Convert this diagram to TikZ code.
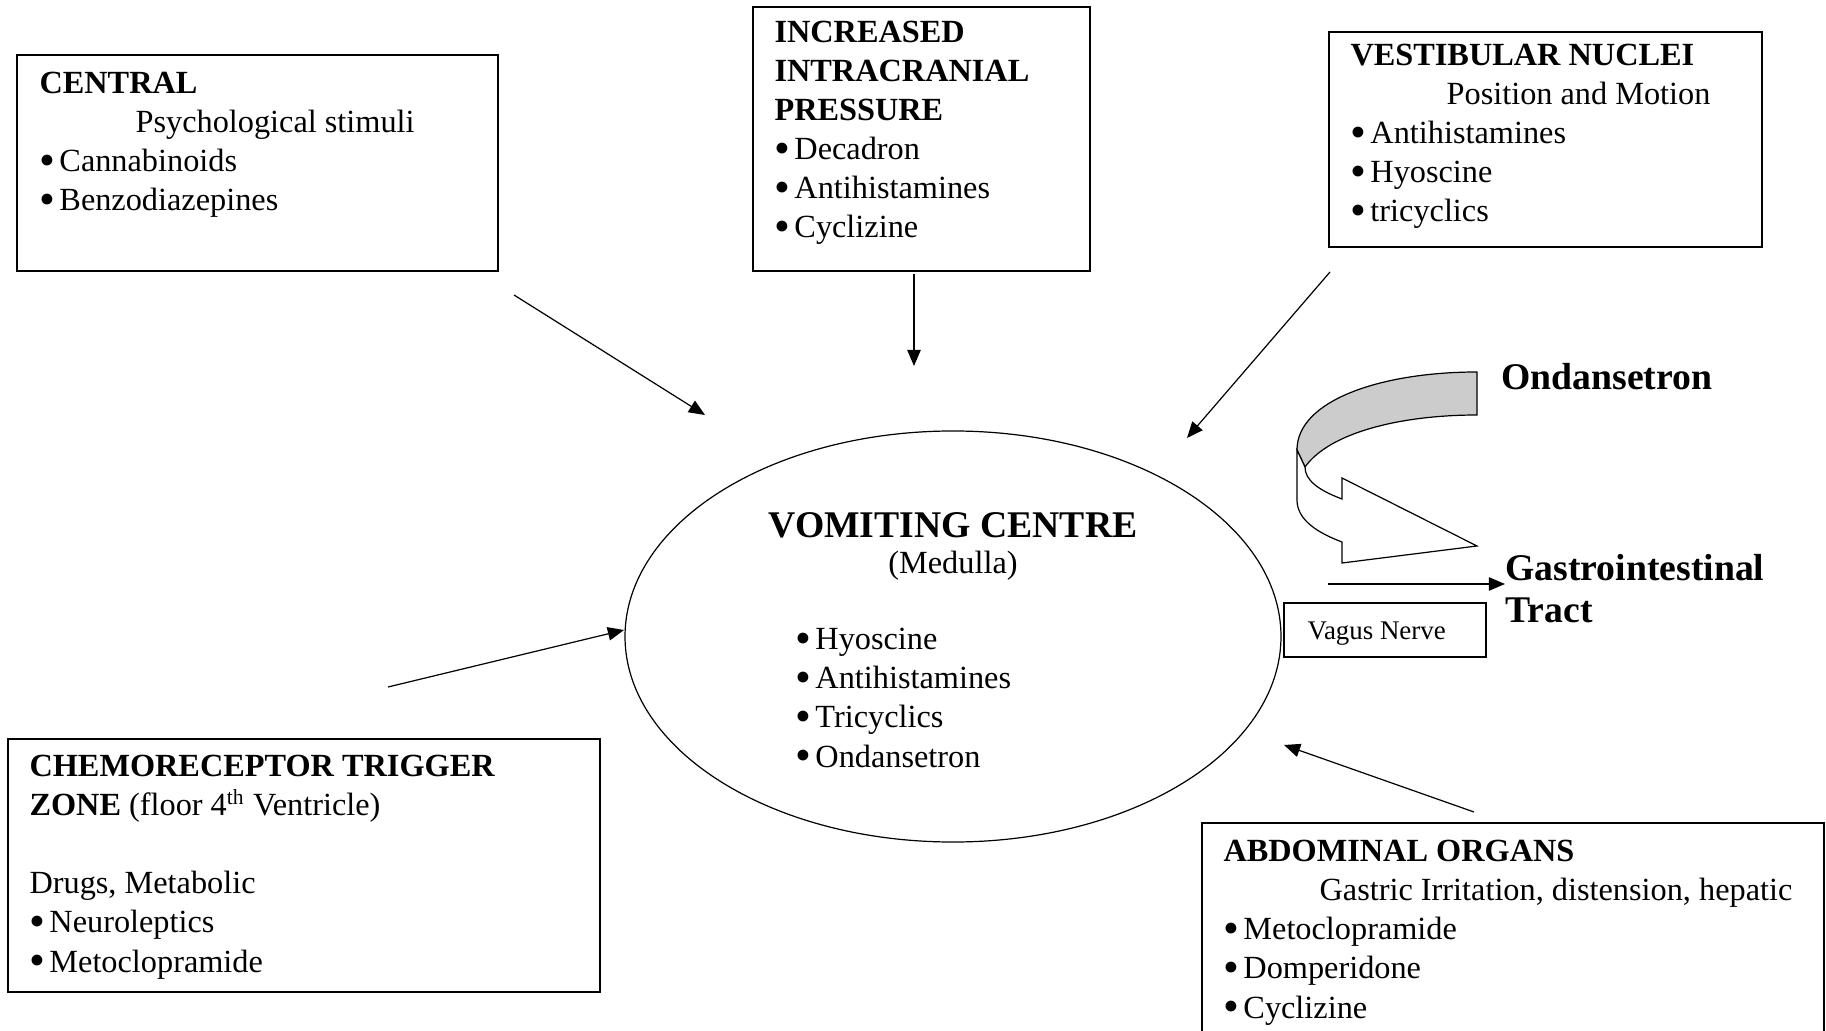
\documentclass[tikz,border=0pt]{standalone}
\usepackage{fontspec}
\usepackage{graphicx}
\setmainfont{Liberation Serif}
\usetikzlibrary{
	arrows.meta,
	positioning,
	fit,
	shapes.geometric,
	}
\newcommand{\bul}{\makebox[7.4pt][l]{\raisebox{-1.3pt}{\scalebox{1.4}{\textbullet}}}}
\tikzset{
	box/.style={draw, line width=0.45pt, inner sep=0pt},
	txt/.style={inner sep=0pt, anchor=base west, align=left, font=\fontsize{12}{14.5}\selectfont},
	big/.style={inner sep=0pt, anchor=base west, align=left, font=\fontsize{14}{15.6}\selectfont\bfseries},
	arr/.style={-{Triangle[length=6pt, width=5pt]}, line width=0.45pt},
}
\begin{document}
\begin{tikzpicture}[x=0.3715pt, y=-0.3715pt]
			\useasboundingbox (0,0) rectangle (1826,1031);
			% boxes
			\node[box, fit={(17,55) (498,271)}] (central) {};
			\node[box, fit={(753,7) (1090,271)}] (icp) {};
			\node[box, fit={(1329,32) (1762,247)}] (vestib) {};
			\node[box, fit={(8,739) (600,992)}] (ctz) {};
			\node[box, fit={(1202,823) (1824,1040)}] (abdomen) {};
			\node[box, fit={(1284,603) (1486,657)}] (vagus) {};
			\node[draw, ellipse, line width=0.45pt, inner sep=0pt, minimum width=243.7pt, minimum height=152.7pt] (vc) at (953,636.5) {};
			% texts (placed at the baseline of their last line)
			\node[txt] (centraltext) at (39,211) {\textbf{CENTRAL}\\\hspace*{35.7pt}Psychological stimuli\\\bul Cannabinoids\\\bul Benzodiazepines};
			\node[txt] (icptext) at (774,238) {\textbf{INCREASED}\\\textbf{INTRACRANIAL}\\\textbf{PRESSURE}\\\bul Decadron\\\bul Antihistamines\\\bul Cyclizine};
			\node[txt] (vestibtext) at (1350,222) {\textbf{VESTIBULAR NUCLEI}\\\hspace*{35.7pt}Position and Motion\\\bul Antihistamines\\\bul Hyoscine\\\bul tricyclics};
			\node[txt] (ctztext) at (29,972) {\textbf{CHEMORECEPTOR TRIGGER}\\\textbf{ZONE} (floor 4\textsuperscript{th} Ventricle)\\[14.5pt]Drugs, Metabolic\\\bul Neuroleptics\\\bul Metoclopramide};
			\node[txt] (abdomentext) at (1223,1018) {\textbf{ABDOMINAL ORGANS}\\\hspace*{35.7pt}Gastric Irritation, distension, hepatic\\\bul Metoclopramide\\\bul Domperidone\\\bul Cyclizine};
			\node[inner sep=0pt, anchor=base, font=\fontsize{14}{16}\selectfont\bfseries] (vctitle) at (953,537) {VOMITING CENTRE};
			\node[inner sep=0pt, anchor=base, font=\fontsize{12}{14.5}\selectfont] (vcsub) at (953,574) {(Medulla)};
			\node[txt] (vctext) at (795,767) {\bul Hyoscine\\\bul Antihistamines\\\bul Tricyclics\\\bul Ondansetron};
			\node[inner sep=0pt, anchor=base west, font=\fontsize{10}{12}\selectfont] (vagustext) at (1307,639) {Vagus Nerve};
			\node[big] (ondan) at (1501,389) {Ondansetron};
			\node[big] (gitract) at (1505,622) {Gastrointestinal\\Tract};
			% ribbon arrow
			\draw[line width=0.45pt, fill=black!20] (1477,372) .. controls (1382,372) and (1297,400) .. (1297,450) -- (1305,467) .. controls (1330,432) and (1402,415) .. (1477,415) -- cycle;
			\draw[line width=0.45pt, fill=white] (1297,450) -- (1297,500) .. controls (1297,520) and (1318,533) .. (1342,542) -- (1342,563) -- (1477,546) -- (1342,478) -- (1342,499) .. controls (1318,490) and (1305,480) .. (1305,467) -- cycle;
			% arrow ends
			\coordinate (central-out) at (514,295);
			\coordinate (central-in) at (705,415);
			\coordinate (icp-out) at (914,274);
			\coordinate (icp-in) at (914,366);
			\coordinate (vestib-out) at (1330,272);
			\coordinate (vestib-in) at (1187,438);
			\coordinate (ctz-out) at (388,687);
			\coordinate (ctz-in) at (624,630);
			\coordinate (abdomen-out) at (1474,812);
			\coordinate (abdomen-in) at (1284,745);
			\coordinate (gi-out) at (1328,584);
			\draw[arr] (central-out) -- (central-in);
			\draw[arr] (icp-out) -- (icp-in);
			\draw[arr] (vestib-out) -- (vestib-in);
			\draw[arr] (ctz-out) -- (ctz-in);
			\draw[arr] (abdomen-out) -- (abdomen-in);
			\draw[arr] (gi-out) -- (gi-out -| gitract.west);
		\end{tikzpicture}
\end{document}
